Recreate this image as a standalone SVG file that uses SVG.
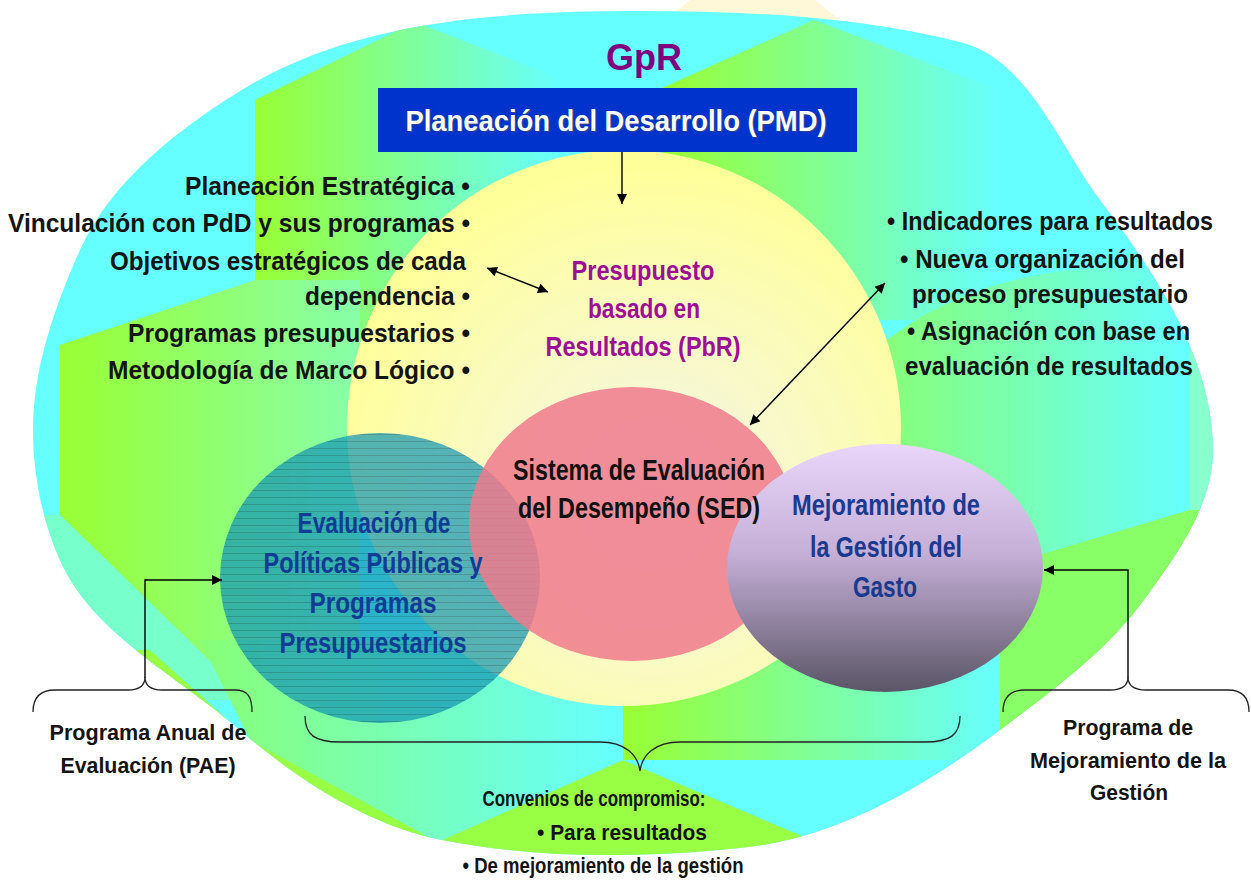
<svg xmlns="http://www.w3.org/2000/svg" width="1251" height="884" viewBox="0 0 1251 884">
<defs>
<style>
.dk{font-family:"Liberation Sans Narrow","Liberation Sans",Arial,sans-serif;font-weight:bold;fill:#141414;}
.ag{font-family:"Liberation Sans Narrow","Liberation Sans",Arial,sans-serif;font-weight:bold;}
.ln{fill:none;stroke:#000;stroke-width:1.4;}
.br{fill:none;stroke:#222;stroke-width:1.3;}
</style>
<clipPath id="blobClip">
<path d="M640,11 C747,11 856,16 960,42 C1028,59 1058,144 1100,200 C1155,273 1213,359 1213,450 C1213,507 1174,559 1140,605 C1102,655 1050,692 1000,730 C924,787 835,839 740,848 C641,858 539,859 442,840 C366,825 295,778 236,727 C175,674 92,633 60,560 C42,520 33,474 33,430 C33,368 55,306 80,250 C112,179 183,125 250,85 C362,19 508,11 640,11 Z"/>
</clipPath>
<linearGradient id="gc" x1="0" y1="0" x2="1" y2="0">
<stop offset="0" stop-color="#99ff33"/>
<stop offset="1" stop-color="#66ffff"/>
</linearGradient>
<linearGradient id="gc2" x1="0" y1="0" x2="1" y2="0">
<stop offset="0" stop-color="#99ff33"/>
<stop offset="1" stop-color="#88ffaa"/>
</linearGradient>
<linearGradient id="gc3" x1="0" y1="0" x2="1" y2="0">
<stop offset="0" stop-color="#88ff77"/>
<stop offset="1" stop-color="#66ffff"/>
</linearGradient>
<radialGradient id="yel" cx="0.55" cy="0.62" r="0.6">
<stop offset="0" stop-color="#f2f2ea"/>
<stop offset="0.45" stop-color="#f9f9c8"/>
<stop offset="1" stop-color="#ffff99"/>
</radialGradient>
<linearGradient id="lav" x1="0" y1="0" x2="0" y2="1">
<stop offset="0" stop-color="#ead6fa"/>
<stop offset="0.45" stop-color="#c4aed6"/>
<stop offset="1" stop-color="#5a5566"/>
</linearGradient>
<pattern id="stripes" width="8" height="7" patternUnits="userSpaceOnUse">
<rect width="8" height="7" fill="#1496b4"/>
<line x1="0" y1="0.5" x2="8" y2="0.5" stroke="#0a6f8a" stroke-width="1"/>
</pattern>
<marker id="ah" viewBox="0 0 10 10" refX="10" refY="5" markerUnits="userSpaceOnUse" markerWidth="12" markerHeight="10" orient="auto-start-reverse">
<path d="M0,0 L10,5 L0,10 Z" fill="#000"/>
</marker>
</defs>

<rect width="1251" height="884" fill="#ffffff"/>

<g id="background">
<polygon points="690,0 815,0 840,20 665,20" fill="#fff8d8"/>
<g clip-path="url(#blobClip)">
<rect x="0" y="0" width="1251" height="884" fill="#66ffff"/>
<polygon points="255,100 415,22 560,78 560,345 255,345" fill="url(#gc)"/>
<polygon points="662,88 814,20 1000,90 1000,320 662,320" fill="url(#gc)"/>
<polygon points="60,345 255,280 360,280 360,650 250,700 60,515" fill="url(#gc2)"/>
<polygon points="0,515 60,515 250,700 0,700" fill="#77ffcc"/>
<path d="M880,345 Q1000,250 1190,272 L1190,510 L1000,567 L880,567 Z" fill="url(#gc3)"/>
<rect x="1190" y="250" width="61" height="260" fill="#88ffcc"/>
<polygon points="623,560 1000,560 1000,760 623,760" fill="url(#gc)"/>
<polygon points="200,640 623,640 623,760 438,842 250,740" fill="url(#gc3)"/>
<polygon points="0,650 150,650 250,740 438,842 623,760 807,838 1000,760 1000,567 1190,510 1251,510 1251,884 0,884" fill="#99ff44"/>
<polygon points="1000,567 1190,510 1251,510 1251,884 1000,884" fill="#88ff66"/>
<polygon points="623,760 1000,760 807,838" fill="#66ffff"/>
</g>
</g>

<g id="node-pbr">
<ellipse cx="624" cy="428" rx="277" ry="278" fill="url(#yel)"/>
</g>

<g id="node-eval">
<ellipse cx="380" cy="578" rx="160" ry="145" fill="url(#stripes)" opacity="0.72"/>
</g>

<g id="node-sed">
<ellipse cx="632" cy="524" rx="163" ry="137" fill="#f07a8c" opacity="0.85"/>
</g>

<g id="node-mejora">
<ellipse cx="885" cy="568" rx="158" ry="124" fill="url(#lav)"/>
</g>

<g id="node-gpr">
<text x="644" y="70" text-anchor="middle" font-family="'Liberation Sans',Arial,sans-serif" font-weight="bold" font-size="36" fill="#800080">GpR</text>
</g>

<g id="node-pmd">
<rect x="378" y="88" width="479" height="64" fill="#0033cc"/>
<text x="617" y="132" text-anchor="middle" class="ag" font-size="30" fill="#555" textLength="421" lengthAdjust="spacingAndGlyphs" opacity="0.6">Planeación del Desarrollo (PMD)</text>
<text x="616" y="131" text-anchor="middle" class="ag" font-size="30" fill="#ffffff" textLength="421" lengthAdjust="spacingAndGlyphs">Planeación del Desarrollo (PMD)</text>
</g>

<g id="node-left-list" class="dk" font-size="26" text-anchor="end">
<text x="470" y="195" textLength="285" lengthAdjust="spacingAndGlyphs">Planeación Estratégica •</text>
<text x="470" y="232" textLength="462" lengthAdjust="spacingAndGlyphs">Vinculación con PdD y sus programas •</text>
<text x="466" y="270" textLength="356" lengthAdjust="spacingAndGlyphs">Objetivos estratégicos de cada</text>
<text x="470" y="305" textLength="165" lengthAdjust="spacingAndGlyphs">dependencia •</text>
<text x="470" y="342" textLength="342" lengthAdjust="spacingAndGlyphs">Programas presupuestarios •</text>
<text x="470" y="379" textLength="362" lengthAdjust="spacingAndGlyphs">Metodología de Marco Lógico •</text>
</g>

<g id="node-right-list" class="dk" font-size="26" text-anchor="end">
<text x="1213" y="230" textLength="326" lengthAdjust="spacingAndGlyphs">• Indicadores para resultados</text>
<text x="1185" y="268" textLength="285" lengthAdjust="spacingAndGlyphs">• Nueva organización del</text>
<text x="1188" y="303" textLength="276" lengthAdjust="spacingAndGlyphs">proceso presupuestario</text>
<text x="1190" y="340" textLength="283" lengthAdjust="spacingAndGlyphs">• Asignación con base en</text>
<text x="1193" y="375" textLength="288" lengthAdjust="spacingAndGlyphs">evaluación de resultados</text>
</g>

<g id="label-pbr" class="ag" font-size="28" fill="#9e0f98" text-anchor="middle">
<text x="643" y="280" textLength="143" lengthAdjust="spacingAndGlyphs">Presupuesto</text>
<text x="644" y="318" textLength="112" lengthAdjust="spacingAndGlyphs">basado en</text>
<text x="643" y="356" textLength="195" lengthAdjust="spacingAndGlyphs">Resultados (PbR)</text>
</g>

<g id="label-sed" class="ag" font-size="29" fill="#111" text-anchor="end">
<text x="765" y="480" textLength="252" lengthAdjust="spacingAndGlyphs">Sistema de Evaluación</text>
<text x="760" y="518" textLength="242" lengthAdjust="spacingAndGlyphs">del Desempeño (SED)</text>
</g>

<g id="label-eval" class="ag" font-size="29" fill="#103c96" text-anchor="middle">
<text x="374" y="533" textLength="153" lengthAdjust="spacingAndGlyphs">Evaluación de</text>
<text x="373" y="573" textLength="219" lengthAdjust="spacingAndGlyphs">Políticas Públicas y</text>
<text x="373" y="613" textLength="127" lengthAdjust="spacingAndGlyphs">Programas</text>
<text x="373" y="653" textLength="187" lengthAdjust="spacingAndGlyphs">Presupuestarios</text>
</g>

<g id="label-mejora" class="ag" font-size="29" fill="#1a3a90" text-anchor="start">
<text x="792" y="515" textLength="188" lengthAdjust="spacingAndGlyphs">Mejoramiento de</text>
<text x="810" y="557" textLength="152" lengthAdjust="spacingAndGlyphs">la Gestión del</text>
<text x="853" y="597" textLength="64" lengthAdjust="spacingAndGlyphs">Gasto</text>
</g>

<g id="node-pae" class="dk" font-size="22" text-anchor="middle">
<text x="148" y="740" textLength="197" lengthAdjust="spacingAndGlyphs">Programa Anual de</text>
<text x="148" y="773" textLength="175" lengthAdjust="spacingAndGlyphs">Evaluación (PAE)</text>
</g>

<g id="node-convenios" class="dk" font-size="22" text-anchor="middle">
<text x="594" y="806" textLength="223" lengthAdjust="spacingAndGlyphs">Convenios de compromiso:</text>
<text x="622" y="840" textLength="170" lengthAdjust="spacingAndGlyphs">• Para resultados</text>
<text x="603" y="873" textLength="281" lengthAdjust="spacingAndGlyphs">• De mejoramiento de la gestión</text>
</g>

<g id="node-pmg" class="dk" font-size="22" text-anchor="middle">
<text x="1128" y="735" textLength="130" lengthAdjust="spacingAndGlyphs">Programa de</text>
<text x="1128" y="768" textLength="196" lengthAdjust="spacingAndGlyphs">Mejoramiento de la</text>
<text x="1129" y="800" textLength="78" lengthAdjust="spacingAndGlyphs">Gestión</text>
</g>

<g id="connectors">
<path class="ln" d="M622,152 L622,204" marker-end="url(#ah)"/>
<path class="ln" d="M487,268 L548,292" marker-start="url(#ah)" marker-end="url(#ah)"/>
<path class="ln" d="M885,283 L750,425" marker-start="url(#ah)" marker-end="url(#ah)"/>
<path class="ln" d="M145,678 L145,580 L222,580" marker-end="url(#ah)"/>
<path class="ln" d="M1128,678 L1128,570 L1044,570" marker-end="url(#ah)"/>
<path class="br" d="M33,712 C33,697 40,690 55,690 L128,690 C140,690 145,685 145,677 C145,685 150,690 162,690 L235,690 C248,690 252,697 252,712"/>
<path class="br" d="M305,716 C305,735 315,742 340,742 L600,742 C625,742 638,755 640,771 C642,755 655,742 680,742 L925,742 C950,742 960,735 960,716"/>
<path class="br" d="M1003,712 C1003,697 1010,690 1025,690 L1110,690 C1122,690 1128,685 1128,677 C1128,685 1134,690 1146,690 L1228,690 C1242,690 1249,697 1249,712"/>
</g>
</svg>
